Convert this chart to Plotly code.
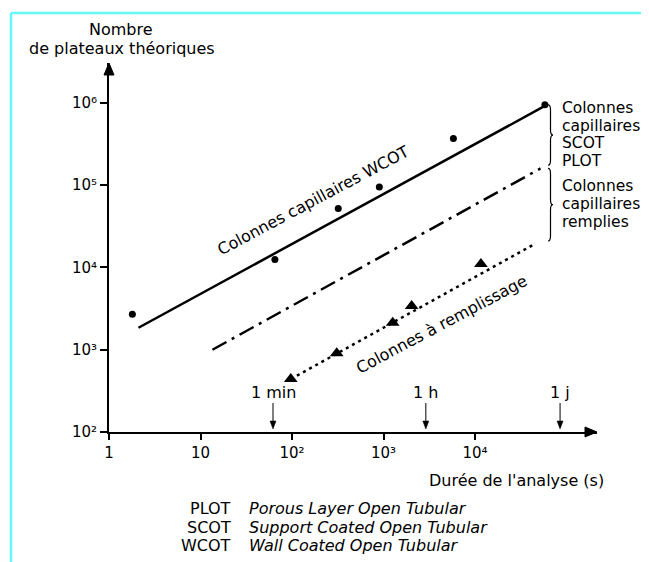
import math
import plotly.graph_objects as go

# ---------------- data ----------------
wcot_x = [1.8, 65, 320, 900, 5800, 58000]
wcot_y = [2700, 12500, 52000, 95000, 370000, 950000]

packed_x = [97, 308, 1260, 2030, 11600]
packed_y = [440, 905, 2130, 3400, 11000]

wcot_fit_x = [2.1, 58000]
wcot_fit_y = [1850, 920000]

filled_fit_x = [13.5, 52000]
filled_fit_y = [1000, 160000]

packed_fit_x = [97, 43000]
packed_fit_y = [440, 18800]

time_marks_x = [62, 2900, 85000]
time_marks_labels = ["1 min", "1 h", "1 j"]

x_tickvals = [1, 10, 100, 1000, 10000]
x_ticktext = ["1", "10", "10²", "10³", "10⁴"]
y_tickvals = [1e2, 1e3, 1e4, 1e5, 1e6]
y_ticktext = ["10²", "10³", "10⁴", "10⁵", "10⁶"]

brace_groups = [
    (950000, 175000, ["Colonnes", "capillaires", "SCOT", "PLOT"]),
    (160000, 21000, ["Colonnes", "capillaires", "remplies"]),
]
abbrev = ["PLOT", "SCOT", "WCOT"]
abbrev_full = ["Porous Layer Open Tubular", "Support Coated Open Tubular", "Wall Coated Open Tubular"]

# ---------------- layout geometry ----------------
# the page body has an 8px margin: the figure starts at page (8, 8)
W, H = 641, 554
L, R, T, B = 101, 52, 55, 130
XR = [0, 5.333]
YR = [2, 6.486]
PW = W - L - R          # 488
PH = H - T - B          # 369
PLOT_LEFT_PAGE = 109
PLOT_BOTTOM_PAGE = 432
FONT = "DejaVu Sans, Verdana, sans-serif"
FS = 16


def ppx(px):
    """page pixel x -> paper"""
    return (px - PLOT_LEFT_PAGE) / PW


def ppy(py):
    """page pixel y -> paper"""
    return (PLOT_BOTTOM_PAGE - py) / PH


def dx(v):
    return (math.log10(v) - XR[0]) / (XR[1] - XR[0])


def dy(v):
    return (math.log10(v) - YR[0]) / (YR[1] - YR[0])


def page_x(v):
    return PLOT_LEFT_PAGE + dx(v) * PW


def page_y(v):
    return PLOT_BOTTOM_PAGE - dy(v) * PH


def path_from_page(cmds):
    out = ""
    for p in cmds:
        cmd = p[0]
        coords = p[1:]
        s = []
        for i in range(0, len(coords), 2):
            s.append(f"{ppx(coords[i]):.5f},{ppy(coords[i + 1]):.5f}")
        out += cmd + " ".join(s) + " "
    return out.strip()


fig = go.Figure()

fig.add_trace(go.Scatter(x=wcot_fit_x, y=wcot_fit_y, mode="lines",
                         line=dict(color="black", width=2.5), showlegend=False))
fig.add_trace(go.Scatter(x=filled_fit_x, y=filled_fit_y, mode="lines",
                         line=dict(color="black", width=2.5, dash="16px,6px,3px,6px"),
                         showlegend=False))
fig.add_trace(go.Scatter(x=packed_fit_x, y=packed_fit_y, mode="lines",
                         line=dict(color="black", width=2.5, dash="3px,4px"), showlegend=False))
fig.add_trace(go.Scatter(x=wcot_x, y=wcot_y, mode="markers",
                         marker=dict(color="black", size=7, symbol="circle"), showlegend=False))
fig.add_trace(go.Scatter(x=packed_x, y=packed_y, mode="markers",
                         marker=dict(color="black", size=12, symbol="triangle-up"), showlegend=False))

annotations = []
shapes = []


def text(x, y, t, xanchor="center", size=FS, angle=0):
    annotations.append(dict(xref="paper", yref="paper", x=x, y=y, text=t, showarrow=False,
                            xanchor=xanchor, yanchor="middle", textangle=angle, borderpad=0,
                            font=dict(family=FONT, size=size, color="black")))


# axis arrow heads (filled triangles)
top_px = PLOT_BOTTOM_PAGE - PH
right_px = PLOT_LEFT_PAGE + PW
shapes.append(dict(type="path", xref="paper", yref="paper", fillcolor="black",
                   line=dict(color="black", width=1),
                   path=path_from_page([("M", PLOT_LEFT_PAGE, top_px), ("L", PLOT_LEFT_PAGE - 5, top_px + 12),
                                        ("L", PLOT_LEFT_PAGE + 5, top_px + 12), ("Z",)])))
shapes.append(dict(type="path", xref="paper", yref="paper", fillcolor="black",
                   line=dict(color="black", width=1),
                   path=path_from_page([("M", right_px, PLOT_BOTTOM_PAGE), ("L", right_px - 12, PLOT_BOTTOM_PAGE - 5),
                                        ("L", right_px - 12, PLOT_BOTTOM_PAGE + 5), ("Z",)])))

# y-axis title
text(ppx(121), ppy(29.5), "Nombre")
text(ppx(122), ppy(48.5), "de plateaux théoriques")

# x-axis title
text(ppx(605), ppy(480), "Durée de l'analyse (s)", xanchor="right")

# time marks: label + small downward arrow
for tx, tl in zip(time_marks_x, time_marks_labels):
    xp = page_x(tx)
    text(dx(tx), ppy(392), tl)
    shapes.append(dict(type="line", xref="paper", yref="paper", x0=dx(tx), x1=dx(tx),
                       y0=ppy(403), y1=ppy(423), line=dict(color="black", width=1)))
    shapes.append(dict(type="path", xref="paper", yref="paper", fillcolor="black",
                       line=dict(color="black", width=0.5),
                       path=path_from_page([("M", xp, 429), ("L", xp - 3, 421), ("L", xp + 3, 421), ("Z",)])))

# rotated curve labels
text(ppx(313), ppy(200), "Colonnes capillaires WCOT", angle=-28)
text(ppx(441), ppy(324), "Colonnes à remplissage", angle=-28)

# braces and right-hand labels
brace_x = 548
for (ytop, ybot, lines), line_y in zip(brace_groups, [[108, 125.5, 143, 160.5], [186, 204, 222]]):
    yt = page_y(ytop)
    yb = page_y(ybot)
    ym = (yt + yb) / 2
    a, r = 2.5, 5
    shapes.append(dict(type="path", xref="paper", yref="paper",
                       line=dict(color="black", width=1.2),
                       path=path_from_page([
                           ("M", brace_x, yt),
                           ("Q", brace_x + a, yt, brace_x + a, yt + r),
                           ("L", brace_x + a, ym - r),
                           ("Q", brace_x + a, ym, brace_x + 2 * a, ym),
                           ("Q", brace_x + a, ym, brace_x + a, ym + r),
                           ("L", brace_x + a, yb - r),
                           ("Q", brace_x + a, yb, brace_x, yb),
                       ])))
    for txt, ly in zip(lines, line_y):
        text(ppx(561), ppy(ly), txt, xanchor="left", size=15.5)

# bottom legend
for ab, full, ly in zip(abbrev, abbrev_full, [509, 527, 545]):
    text(ppx(232), ppy(ly), ab, xanchor="right")
    text(ppx(248), ppy(ly), f"<i>{full}</i>", xanchor="left")

# cyan frame
CYAN = "#66F7F7"
shapes.append(dict(type="line", xref="paper", yref="paper", x0=ppx(11), y0=ppy(13), x1=ppx(680), y1=ppy(13),
                   line=dict(color=CYAN, width=2.5)))
shapes.append(dict(type="line", xref="paper", yref="paper", x0=ppx(11), y0=ppy(13), x1=ppx(11), y1=ppy(600),
                   line=dict(color=CYAN, width=2.5)))

axis_common = dict(type="log", showline=True, linecolor="black", linewidth=2, ticks="outside",
                   tickcolor="black", tickwidth=1.5, showgrid=False, zeroline=False,
                   tickfont=dict(family=FONT, size=15, color="black"))

fig.update_layout(
    width=W, height=H, autosize=False,
    margin=dict(l=L, r=R, t=T, b=B, pad=0),
    paper_bgcolor="white", plot_bgcolor="white",
    xaxis=dict(range=XR, tickvals=x_tickvals, ticktext=x_ticktext, ticklen=6, **axis_common),
    yaxis=dict(range=YR, tickvals=y_tickvals, ticktext=y_ticktext, ticklen=7, **axis_common),
    annotations=annotations,
    shapes=shapes,
    showlegend=False,
)

fig.write_html("out.html")
